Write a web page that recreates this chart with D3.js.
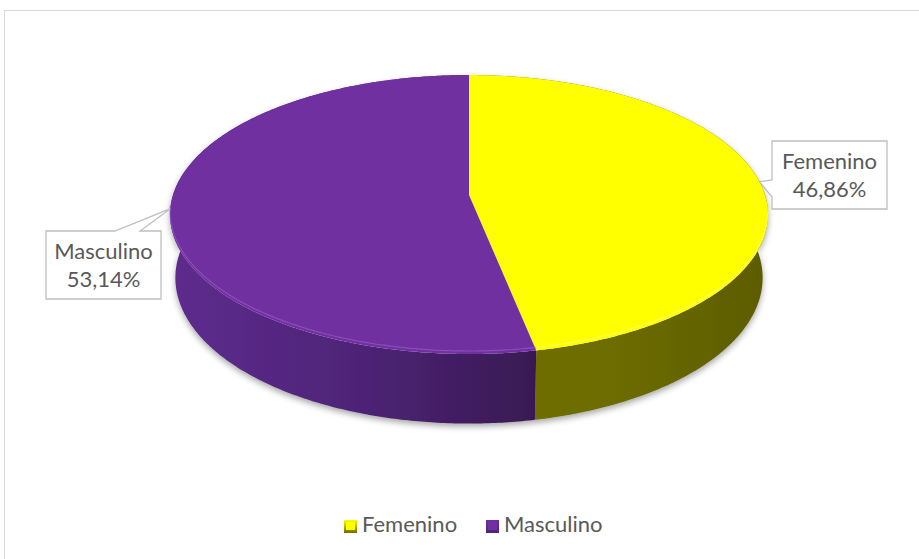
<!DOCTYPE html>
<html>
<head>
<meta charset="utf-8">
<script src="https://cdn.jsdelivr.net/npm/d3@7"></script>
<style>
  html, body { margin: 0; padding: 0; background: #ffffff; }
  svg { display: block; }
  text { font-family: Lato, "Open Sans", "Liberation Sans", sans-serif; fill: #595959; }
</style>
</head>
<body>
<svg id="chart" width="919" height="559"></svg>
<script>
// Distribución por sexo
const categories = ["Femenino", "Masculino"];
const values = [46.86, 53.14];
const valueLabels = ["46,86%", "53,14%"];
const topColors = ["#FFFF00", "#7030A0"];
const sideColors = [["#6F6F00", "#6C6C00", "#5C5C00"], ["#5E2C8E", "#4E2477", "#391953"]];

const W = 919, H = 559;
const svg = d3.select("#chart");

// chart frame
svg.append("rect")
  .attr("x", 4.5).attr("y", 10.5)
  .attr("width", 1000).attr("height", 1000)
  .attr("fill", "#fff").attr("stroke", "#d9d9d9").attr("stroke-width", 1);

// 3D disc projection (tilted disc seen with perspective)
const cx = 469, cy = 195, R = 296, depth = 72;
const sinA = 0.462, cosA = Math.sqrt(1 - sinA * sinA);
const D = 1875;
function proj(theta, h) {
  const u = R * Math.sin(theta), v = -R * Math.cos(theta);
  const sy = v * sinA + h * cosA;
  const dz = v * cosA - h * sinA;
  const s = D / (D - dz);
  return [cx + u * s, cy + sy * s];
}
function arcPoints(a0, a1, h) {
  const n = Math.max(8, Math.ceil(Math.abs(a1 - a0) / 0.01));
  return d3.range(n + 1).map(i => proj(a0 + (a1 - a0) * i / n, h));
}

const pie = d3.pie().sort(null).value(d => d).startAngle(0).endAngle(2 * Math.PI);
const arcs = pie(values);

const defs = svg.append("defs");
const shadow = defs.append("filter").attr("id", "shadow")
  .attr("x", "-10%").attr("y", "-10%").attr("width", "120%").attr("height", "130%");
shadow.append("feDropShadow").attr("dx", 0).attr("dy", 3).attr("stdDeviation", 3)
  .attr("flood-color", "#000").attr("flood-opacity", 0.35);

arcs.forEach((a, i) => {
  const xs = arcPoints(a.startAngle, a.endAngle, 0).map(p => p[0]);
  const g = defs.append("linearGradient").attr("id", "side" + i)
    .attr("gradientUnits", "userSpaceOnUse")
    .attr("x1", d3.min(xs)).attr("x2", d3.max(xs)).attr("y1", 0).attr("y2", 0);
  sideColors[i].forEach((c, k, arr) =>
    g.append("stop").attr("offset", k / (arr.length - 1)).attr("stop-color", c));
});

const line = d3.line();
const pieG = svg.append("g");

// outer walls
const walls = pieG.append("g").attr("filter", "url(#shadow)");
arcs.forEach((a, i) => {
  const top = arcPoints(a.startAngle, a.endAngle, 0);
  const bottom = arcPoints(a.startAngle, a.endAngle, depth).reverse();
  walls.append("path")
    .attr("d", line(top.concat(bottom)) + "Z")
    .attr("fill", `url(#side${i})`);
});

// top faces
arcs.forEach((a, i) => {
  const pts = [[cx, cy]].concat(arcPoints(a.startAngle, a.endAngle, 0));
  pieG.append("path")
    .attr("d", line(pts) + "Z")
    .attr("fill", topColors[i]);
});

// bevel highlight along the front rim
arcs.forEach((a, i) => {
  const a0 = Math.max(a.startAngle, Math.PI / 2 + 0.1);
  const a1 = Math.min(a.endAngle, 3 * Math.PI / 2 - 0.1);
  if (a1 <= a0) return;
  const inner = arcPoints(a0, a1, 0).map(p => [p[0], p[1] - 3]);
  pieG.append("path")
    .attr("d", line(inner))
    .attr("fill", "none")
    .attr("stroke", i === 1 ? "#9A62CC" : "#FFFF80")
    .attr("stroke-opacity", 0.6)
    .attr("stroke-width", 1.2);
});

// data label callouts
const boxW = 115, boxH = 68;
const boxes = [
  { x: 772, y: 141, side: "left" },
  { x: 46, y: 231, side: "top" }
];
arcs.forEach((a, i) => {
  const mid = (a.startAngle + a.endAngle) / 2;
  const tip = proj(mid, 0);
  const b = boxes[i];
  let pts;
  if (b.side === "left") {
    pts = [[b.x, b.y], [b.x + boxW, b.y], [b.x + boxW, b.y + boxH], [b.x, b.y + boxH],
           [b.x, b.y + 56], tip, [b.x, b.y + 39]];
  } else {
    pts = [[b.x, b.y], [b.x + 69, b.y], tip, [b.x + 94, b.y], [b.x + boxW, b.y],
           [b.x + boxW, b.y + boxH], [b.x, b.y + boxH]];
  }
  svg.append("path")
    .attr("d", line(pts) + "Z")
    .attr("fill", "#fff").attr("stroke", "#bfbfbf").attr("stroke-width", 1.3);
  const t = svg.append("text")
    .attr("text-anchor", "middle")
    .attr("font-size", 22);
  t.append("tspan").attr("x", b.x + boxW / 2).attr("y", b.y + 28).text(categories[i]);
  t.append("tspan").attr("x", b.x + boxW / 2).attr("y", b.y + 56).text(valueLabels[i]);
});

// legend
const legendX = [344, 486];
const legend = svg.append("g");
categories.forEach((c, i) => {
  const gid = "lg" + i;
  const lg = defs.append("linearGradient").attr("id", gid)
    .attr("x1", 0).attr("y1", 0).attr("x2", 0).attr("y2", 1);
  lg.append("stop").attr("offset", 0).attr("stop-color", topColors[i]);
  lg.append("stop").attr("offset", 1).attr("stop-color", sideColors[i][1]);
  legend.append("rect")
    .attr("x", legendX[i]).attr("y", 520)
    .attr("width", 13).attr("height", 13)
    .attr("fill", `url(#${gid})`);
  legend.append("rect")
    .attr("x", legendX[i] + 2).attr("y", 522)
    .attr("width", 9).attr("height", 8)
    .attr("fill", topColors[i]);
  legend.append("text")
    .attr("x", legendX[i] + 18).attr("y", 532)
    .attr("font-size", 22)
    .text(c);
});
</script>
</body>
</html>
